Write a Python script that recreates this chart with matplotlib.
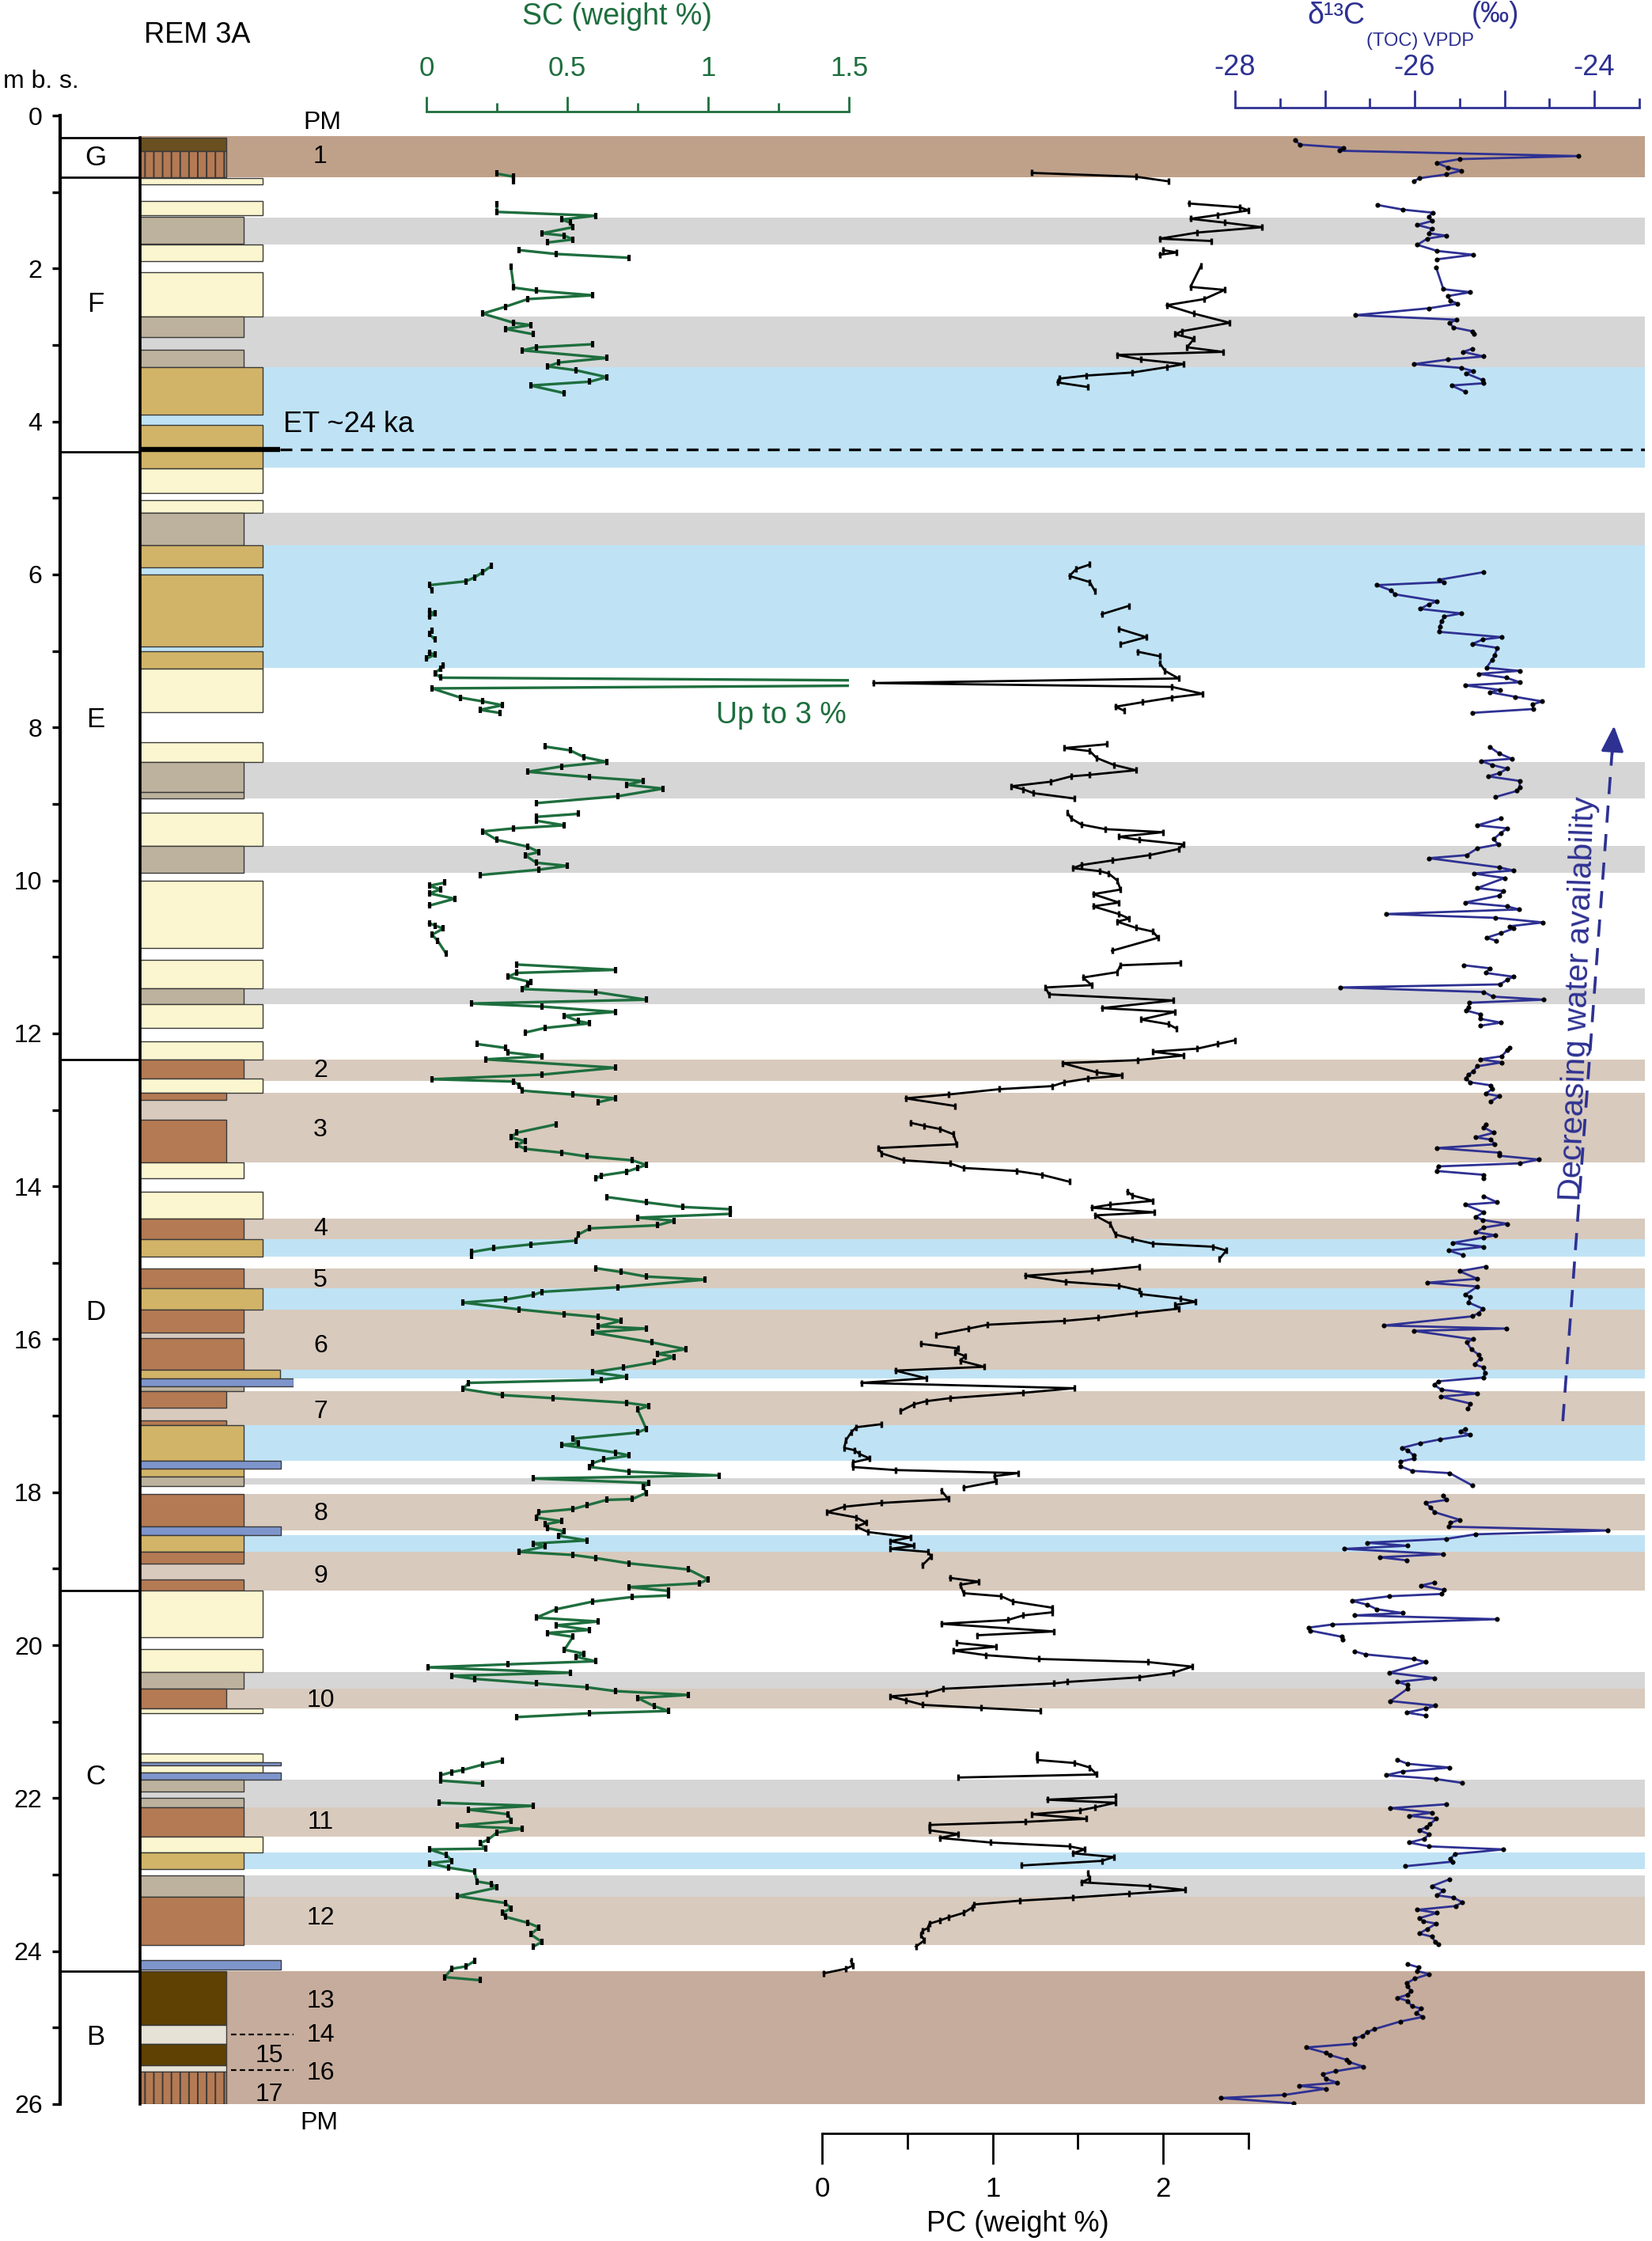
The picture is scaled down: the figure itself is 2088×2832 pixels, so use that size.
import numpy as np
import matplotlib
matplotlib.use("Agg")
import matplotlib.pyplot as plt
from matplotlib.patches import Rectangle

plt.rcParams['font.family'] = ['Liberation Sans Narrow', 'Liberation Sans', 'DejaVu Sans']
plt.rcParams['hatch.linewidth'] = 0.7
plt.rcParams['axes.unicode_minus'] = False

nan = np.nan

# ---------------- stratigraphy (depth in m below surface) ----------------
unit_names = ['G', 'F', 'E', 'D', 'C', 'B']
unit_bounds = [0.29, 0.81, 4.40, 12.34, 19.29, 24.26, 26.0]
unit_label_depth = [0.55, 2.47, 7.90, 15.65, 21.72, 25.13]

# lithology layers: top, bottom, kind
litho = [
    (0.29, 0.47, 'cap'), (0.47, 0.81, 'hatch'),
    (0.82, 0.90, 'sand'), (1.12, 1.30, 'sand'), (1.32, 1.68, 'silt'), (1.69, 1.90, 'sand'),
    (2.05, 2.63, 'sand'), (2.63, 2.90, 'silt'), (3.06, 3.29, 'silt'), (3.29, 3.91, 'gold'),
    (4.05, 4.61, 'gold'), (4.61, 4.94, 'sand'), (5.03, 5.19, 'sand'), (5.19, 5.62, 'silt'),
    (5.62, 5.91, 'gold'), (6.00, 6.94, 'gold'), (7.00, 7.23, 'gold'), (7.23, 7.80, 'sand'),
    (8.19, 8.45, 'sand'), (8.45, 8.85, 'silt'), (8.85, 8.93, 'silt'), (9.12, 9.55, 'sand'),
    (9.55, 9.90, 'silt'), (10.00, 10.88, 'sand'), (11.04, 11.41, 'sand'), (11.41, 11.62, 'silt'),
    (11.62, 11.93, 'sand'), (12.10, 12.34, 'sand'),
    (12.34, 12.59, 'soil'), (12.59, 12.78, 'sand'), (12.78, 12.87, 'soil_n'), (13.13, 13.69, 'soil_n'),
    (13.69, 13.90, 'sand_s'), (14.07, 14.42, 'sand'), (14.42, 14.69, 'soil'), (14.69, 14.92, 'gold'),
    (15.07, 15.33, 'soil'), (15.33, 15.61, 'gold'), (15.61, 15.91, 'soil'), (15.99, 16.40, 'soil'),
    (16.40, 16.51, 'gold_l'), (16.51, 16.62, 'blue_l'), (16.62, 16.68, 'silt'), (16.68, 16.90, 'soil_n'),
    (17.06, 17.12, 'soil_n'), (17.12, 17.59, 'gold_s'), (17.59, 17.69, 'blue'), (17.69, 17.80, 'gold_s'),
    (17.80, 17.92, 'silt'), (18.02, 18.45, 'soil'), (18.45, 18.56, 'blue'), (18.56, 18.78, 'gold_s'),
    (18.78, 18.93, 'soil'), (19.14, 19.29, 'soil'),
    (19.29, 19.90, 'sand'), (20.05, 20.35, 'sand'), (20.35, 20.57, 'silt'), (20.57, 20.83, 'soil_n'),
    (20.83, 20.89, 'sand'), (21.42, 21.53, 'sand'), (21.53, 21.57, 'blue'), (21.57, 21.67, 'sand'),
    (21.67, 21.76, 'blue'), (21.76, 21.91, 'silt'), (22.00, 22.12, 'silt'), (22.12, 22.50, 'soil'),
    (22.50, 22.71, 'sand'), (22.71, 22.93, 'gold_s'), (23.01, 23.29, 'silt'), (23.29, 23.92, 'soil'),
    (24.12, 24.24, 'blue'),
    (24.26, 24.97, 'dark'), (24.97, 25.21, 'light'), (25.21, 25.49, 'dark'), (25.49, 25.58, 'light'),
    (25.58, 26.0, 'hatch'),
]

# background bands: top, bottom, kind
bands = [
    (0.27, 0.81, 'pm_g'), (24.26, 26.0, 'pm_b'),
    (1.33, 1.69, 'grey'), (2.63, 3.29, 'grey'), (5.19, 5.62, 'grey'), (8.45, 8.93, 'grey'),
    (9.55, 9.90, 'grey'), (11.41, 11.62, 'grey'), (17.82, 17.90, 'grey'), (20.35, 20.57, 'grey'),
    (21.76, 22.12, 'grey'), (23.01, 23.29, 'grey'),
    (3.29, 4.60, 'blue'), (5.62, 7.22, 'blue'), (14.69, 14.92, 'blue'), (15.33, 15.61, 'blue'),
    (16.40, 16.51, 'blue'), (17.12, 17.59, 'blue'), (18.56, 18.78, 'blue'), (22.71, 22.93, 'blue'),
    (12.34, 12.62, 'pm'), (12.78, 13.69, 'pm'), (14.42, 14.69, 'pm'), (15.07, 15.33, 'pm'),
    (15.61, 16.40, 'pm'), (16.68, 17.12, 'pm'), (18.02, 18.50, 'pm'), (18.78, 19.29, 'pm'),
    (20.57, 20.83, 'pm'), (22.12, 22.50, 'pm'), (23.29, 23.92, 'pm'),
]

pm_labels = ['1', '2', '3', '4', '5', '6', '7', '8', '9', '10', '11', '12', '13', '14', '15', '16', '17']
pm_depths = [0.54, 12.49, 13.26, 14.56, 15.23, 16.09, 16.95, 18.28, 19.10, 20.72, 22.32, 23.57,
             24.65, 25.10, 25.37, 25.60, 25.88]
et_depth = 4.37
pm_dashes = [25.09, 25.56]

# ---------------- geochemistry: depth (m), value ----------------
sc = np.array([
    [0.76, 0.25], [0.80, 0.31], [0.86, 0.31], [nan, nan],
    [1.16, 0.25], [1.26, 0.25], [1.31, 0.60], [1.36, 0.48], [1.40, 0.51], [1.46, 0.52], [1.54, 0.41],
    [1.57, 0.49], [1.62, 0.52], [1.66, 0.43], [nan, nan],
    [1.76, 0.33], [1.81, 0.46], [1.86, 0.72], [nan, nan],
    [1.98, 0.30], [2.25, 0.31], [2.29, 0.39], [2.35, 0.59], [2.40, 0.36], [2.50, 0.28], [2.59, 0.20],
    [2.71, 0.31], [2.74, 0.37], [2.79, 0.28], [2.86, 0.38], [nan, nan],
    [2.99, 0.59], [3.03, 0.39], [3.07, 0.34], [3.17, 0.64], [3.23, 0.47], [3.28, 0.43], [3.33, 0.53],
    [3.42, 0.64], [3.48, 0.58], [3.53, 0.37], [3.63, 0.49], [nan, nan],
    [5.89, 0.23], [5.97, 0.20], [6.04, 0.17], [6.09, 0.14], [6.14, 0.01], [6.21, 0.02], [nan, nan],
    [6.48, 0.01], [6.51, 0.03], [6.55, 0.01], [nan, nan],
    [6.74, 0.02], [6.78, 0.01], [6.85, 0.03], [nan, nan],
    [7.02, 0.01], [7.05, 0.03], [7.10, 0.00], [nan, nan],
    [7.19, 0.06], [7.23, 0.05], [7.29, 0.03], [7.35, 0.05], [7.42, 3.00], [7.49, 0.02], [7.61, 0.12],
    [7.66, 0.20], [7.71, 0.27], [7.77, 0.19], [7.81, 0.26], [nan, nan],
    [8.25, 0.42], [8.30, 0.51], [8.39, 0.56], [8.45, 0.64], [8.51, 0.48], [8.58, 0.36], [8.65, 0.58],
    [8.70, 0.77], [8.75, 0.71], [8.80, 0.84], [8.90, 0.68], [8.99, 0.39], [nan, nan],
    [9.13, 0.54], [9.17, 0.39], [9.22, 0.39], [9.28, 0.49], [9.32, 0.31], [9.36, 0.20], [9.47, 0.25],
    [9.56, 0.36], [9.63, 0.40], [9.67, 0.35], [9.77, 0.39], [9.81, 0.50], [9.86, 0.40], [9.93, 0.19],
    [nan, nan],
    [10.03, 0.065], [10.07, 0.01], [10.12, 0.05], [10.17, 0.01], [10.24, 0.10], [10.33, 0.01], [nan, nan],
    [10.56, 0.01], [10.59, 0.03], [10.63, 0.06], [10.71, 0.02], [10.79, 0.04], [10.96, 0.07], [nan, nan],
    [11.10, 0.32], [11.17, 0.67], [11.21, 0.32], [11.26, 0.29], [11.33, 0.37], [11.36, 0.36],
    [11.42, 0.34], [11.46, 0.60], [11.56, 0.78], [11.61, 0.16], [11.65, 0.41], [11.72, 0.67],
    [11.77, 0.49], [11.84, 0.54], [11.87, 0.58], [11.93, 0.42], [11.99, 0.35], [nan, nan],
    [12.14, 0.18], [12.19, 0.28], [12.25, 0.29], [12.30, 0.41], [12.34, 0.21], [12.45, 0.67],
    [12.54, 0.41], [12.60, 0.02], [12.63, 0.31], [12.68, 0.33], [12.75, 0.34], [12.80, 0.52],
    [12.85, 0.67], [12.90, 0.61], [nan, nan],
    [13.19, 0.46], [13.30, 0.32], [13.36, 0.30], [13.41, 0.35], [13.46, 0.32], [13.51, 0.35],
    [13.56, 0.48], [13.61, 0.57], [13.66, 0.73], [13.72, 0.78], [13.76, 0.75], [13.81, 0.71],
    [13.86, 0.62], [13.90, 0.60], [nan, nan],
    [14.14, 0.64], [14.21, 0.78], [14.27, 0.91], [14.30, 1.08], [14.36, 1.08], [14.41, 0.75],
    [14.45, 0.88], [14.51, 0.82], [14.55, 0.58], [14.63, 0.54], [14.71, 0.53], [14.76, 0.37],
    [14.81, 0.24], [14.86, 0.16], [14.91, 0.16], [nan, nan],
    [15.07, 0.60], [15.12, 0.69], [15.18, 0.78], [15.22, 0.99], [15.32, 0.68], [15.38, 0.41],
    [15.42, 0.38], [15.48, 0.28], [15.52, 0.13], [15.61, 0.33], [15.67, 0.49], [15.71, 0.61],
    [15.76, 0.69], [15.83, 0.61], [15.86, 0.78], [15.91, 0.59], [16.04, 0.80], [16.13, 0.92],
    [16.19, 0.82], [16.23, 0.88], [16.30, 0.81], [16.37, 0.70], [16.43, 0.59], [16.49, 0.71],
    [16.53, 0.62], [16.57, 0.15], [16.65, 0.13], [16.73, 0.27], [16.77, 0.45], [16.83, 0.71],
    [16.87, 0.79], [16.92, 0.75], [17.17, 0.78], [17.22, 0.75], [17.30, 0.52], [17.36, 0.54],
    [17.38, 0.48], [17.48, 0.67], [17.52, 0.72], [17.57, 0.63], [17.62, 0.59], [17.67, 0.58],
    [17.73, 0.72], [17.78, 1.04], [17.82, 0.38], [17.88, 0.79], [17.93, 0.77], [18.01, 0.78],
    [18.09, 0.73], [18.10, 0.64], [18.17, 0.57], [18.22, 0.52], [18.26, 0.40], [18.33, 0.39],
    [18.38, 0.48], [18.42, 0.42], [18.47, 0.43], [18.51, 0.49], [18.57, 0.47], [18.63, 0.57],
    [18.67, 0.38], [18.71, 0.42], [18.78, 0.33], [18.82, 0.52], [18.86, 0.60], [18.93, 0.72],
    [19.01, 0.93], [19.14, 1.00], [19.19, 0.97], [19.24, 0.72], [19.29, 0.86], [19.35, 0.86],
    [19.37, 0.73], [19.43, 0.59], [19.53, 0.46], [19.64, 0.39], [19.69, 0.61], [19.74, 0.46],
    [19.80, 0.58], [19.84, 0.43], [19.89, 0.52], [20.06, 0.49], [20.11, 0.56], [20.15, 0.53],
    [20.21, 0.60], [20.25, 0.29], [20.29, 0.005], [20.36, 0.51], [20.40, 0.09], [20.44, 0.17],
    [20.50, 0.39], [20.55, 0.57], [20.60, 0.67], [20.65, 0.93], [20.69, 0.75], [20.80, 0.81],
    [20.86, 0.86], [20.89, 0.58], [20.94, 0.32], [nan, nan],
    [21.51, 0.27], [21.56, 0.20], [21.63, 0.13], [21.66, 0.09], [21.70, 0.05], [21.77, 0.05],
    [21.81, 0.20], [nan, nan],
    [22.06, 0.045], [22.10, 0.38], [22.15, 0.15], [22.21, 0.29], [22.30, 0.30], [22.36, 0.11],
    [22.40, 0.34], [22.45, 0.25], [22.54, 0.22], [22.59, 0.19], [22.66, 0.21], [22.67, 0.01],
    [22.74, 0.07], [22.82, 0.09], [22.85, 0.01], [22.91, 0.08], [22.96, 0.17], [23.09, 0.18],
    [23.12, 0.23], [23.17, 0.25], [23.28, 0.11], [23.37, 0.28], [23.44, 0.30], [23.50, 0.27],
    [23.55, 0.28], [23.63, 0.36], [23.69, 0.40], [23.78, 0.37], [23.88, 0.41], [23.94, 0.38],
    [nan, nan],
    [24.13, 0.17], [24.20, 0.14], [24.23, 0.09], [24.34, 0.065], [24.38, 0.19],
])

pc = np.array([
    [0.75, 1.23], [0.80, 1.84], [0.86, 2.03], [nan, nan],
    [1.15, 2.15], [1.20, 2.45], [1.24, 2.50], [1.30, 2.32], [1.35, 2.16], [1.40, 2.36], [1.46, 2.58],
    [1.53, 2.20], [1.61, 1.98], [1.64, 2.28], [nan, nan],
    [1.76, 2.00], [1.79, 2.08], [1.82, 1.98], [nan, nan],
    [1.97, 2.22], [2.24, 2.16], [2.28, 2.36], [2.40, 2.24], [2.48, 2.02], [2.59, 2.18], [2.71, 2.39],
    [2.82, 2.11], [2.86, 2.07], [2.92, 2.18], [3.03, 2.14], [3.09, 2.35], [3.13, 1.73], [3.19, 1.87],
    [3.25, 2.12], [3.29, 2.02], [3.36, 1.82], [3.40, 1.55], [3.44, 1.39], [3.49, 1.38], [3.55, 1.56],
    [nan, nan],
    [5.87, 1.57], [5.93, 1.49], [6.02, 1.45], [6.10, 1.57], [6.22, 1.60], [nan, nan],
    [6.41, 1.80], [6.52, 1.64], [nan, nan],
    [6.71, 1.74], [6.82, 1.90], [6.91, 1.75], [nan, nan],
    [7.01, 1.85], [7.07, 1.98], [nan, nan],
    [7.16, 1.98], [7.26, 2.01], [7.36, 2.09], [7.42, 0.30], [7.47, 2.05], [7.56, 2.23], [7.61, 2.05],
    [7.67, 1.88], [7.73, 1.72], [7.78, 1.77], [nan, nan],
    [8.22, 1.67], [8.27, 1.42], [8.31, 1.57], [8.40, 1.61], [8.49, 1.71], [8.56, 1.84], [8.62, 1.57],
    [8.64, 1.46], [8.71, 1.34], [8.77, 1.11], [8.81, 1.18], [8.86, 1.24], [8.93, 1.48], [nan, nan],
    [9.12, 1.44], [9.19, 1.46], [9.27, 1.52], [9.33, 1.66], [9.37, 2.00], [9.43, 1.74], [9.47, 1.86],
    [9.53, 2.12], [9.59, 2.09], [9.67, 1.92], [9.74, 1.70], [9.80, 1.52], [9.84, 1.47], [9.88, 1.63],
    [9.91, 1.68], [10.00, 1.73], [10.12, 1.75], [10.18, 1.59], [10.29, 1.74], [10.34, 1.59],
    [10.44, 1.74], [10.50, 1.80], [10.54, 1.73], [10.62, 1.84], [10.67, 1.94], [10.75, 1.97],
    [10.92, 1.70], [nan, nan],
    [11.08, 2.10], [11.11, 1.75], [11.20, 1.73], [11.27, 1.53], [11.37, 1.58], [11.40, 1.31],
    [11.49, 1.33], [11.57, 2.06], [11.67, 1.64], [11.72, 2.07], [11.82, 1.87], [11.88, 2.03],
    [11.94, 2.08], [nan, nan],
    [12.09, 2.42], [12.14, 2.32], [12.20, 2.20], [12.24, 1.94], [12.29, 2.12], [12.35, 1.85],
    [12.39, 1.41], [12.51, 1.61], [12.55, 1.76], [12.59, 1.56], [12.64, 1.42], [12.69, 1.35],
    [12.73, 1.04], [12.80, 0.74], [12.85, 0.49], [12.95, 0.78], [nan, nan],
    [13.17, 0.52], [13.21, 0.60], [13.25, 0.69], [13.32, 0.77], [13.45, 0.79], [13.50, 0.33],
    [13.57, 0.35], [13.66, 0.48], [13.70, 0.75], [13.76, 0.83], [13.80, 1.14], [13.85, 1.29],
    [13.94, 1.45], [nan, nan],
    [14.07, 1.79], [14.12, 1.82], [14.19, 1.94], [14.24, 1.69], [14.28, 1.58], [14.34, 1.95],
    [14.38, 1.60], [14.49, 1.69], [14.63, 1.72], [14.69, 1.82], [14.75, 1.94], [14.79, 2.29],
    [14.84, 2.37], [14.95, 2.33], [nan, nan],
    [15.05, 1.86], [15.11, 1.58], [15.17, 1.19], [15.25, 1.43], [15.30, 1.74], [15.36, 1.86],
    [15.41, 1.87], [15.47, 2.10], [15.51, 2.19], [15.55, 2.07], [15.60, 2.09], [15.66, 1.84],
    [15.72, 1.62], [15.76, 1.42], [15.81, 0.97], [15.86, 0.86], [15.94, 0.67], [nan, nan],
    [16.06, 0.58], [16.12, 0.80], [16.17, 0.78], [16.22, 0.84], [16.28, 0.81], [16.36, 0.95],
    [16.41, 0.43], [16.51, 0.61], [16.57, 0.23], [16.64, 1.48], [16.70, 1.18], [16.77, 0.75],
    [16.81, 0.61], [16.85, 0.54], [16.94, 0.46], [nan, nan],
    [17.11, 0.35], [17.15, 0.20], [17.22, 0.17], [17.32, 0.14], [17.42, 0.13], [17.45, 0.19],
    [17.50, 0.22], [17.56, 0.28], [17.61, 0.18], [17.67, 0.18], [17.71, 0.43], [17.75, 1.15],
    [17.79, 1.01], [17.86, 1.02], [17.94, 0.83], [nan, nan],
    [17.98, 0.70], [18.09, 0.74], [18.14, 0.35], [18.19, 0.13], [18.26, 0.03], [18.33, 0.20],
    [18.40, 0.26], [18.45, 0.20], [18.52, 0.27], [18.59, 0.52], [18.64, 0.40], [18.70, 0.54],
    [18.74, 0.40], [18.78, 0.62], [18.84, 0.64], [18.95, 0.59], [nan, nan],
    [19.12, 0.75], [19.17, 0.92], [19.21, 0.81], [19.32, 0.83], [19.36, 1.05], [19.43, 1.12],
    [19.51, 1.35], [19.57, 1.35], [19.61, 1.18], [19.67, 1.09], [19.72, 0.70], [19.82, 1.36],
    [19.87, 0.91], [nan, nan],
    [19.97, 0.79], [20.02, 1.02], [20.07, 0.77], [20.13, 0.96], [20.18, 1.27], [20.22, 1.91],
    [20.28, 2.17], [20.36, 2.06], [20.42, 1.86], [20.48, 1.44], [20.50, 1.36], [20.57, 0.71],
    [20.63, 0.61], [20.67, 0.40], [20.72, 0.49], [20.78, 0.59], [20.82, 0.93], [20.86, 1.28],
    [nan, nan],
    [21.43, 1.26], [21.50, 1.26], [21.54, 1.48], [21.60, 1.57], [21.69, 1.61], [21.73, 0.80],
    [nan, nan],
    [21.98, 1.72], [22.02, 1.32], [22.06, 1.72], [22.12, 1.60], [22.16, 1.51], [22.21, 1.23],
    [22.27, 1.55], [22.31, 1.19], [22.35, 0.63], [22.42, 0.63], [22.47, 0.80], [22.52, 0.69],
    [22.58, 0.99], [22.63, 1.45], [22.67, 1.54], [22.72, 1.47], [22.77, 1.71], [22.82, 1.64],
    [22.88, 1.17], [nan, nan],
    [22.98, 1.56], [23.05, 1.57], [23.10, 1.52], [23.15, 1.92], [23.20, 2.13], [23.25, 1.80],
    [23.30, 1.47], [23.34, 1.16], [23.39, 0.89], [23.43, 0.88], [23.50, 0.83], [23.56, 0.74],
    [23.60, 0.69], [23.64, 0.63], [23.70, 0.62], [23.73, 0.59], [23.79, 0.58], [23.86, 0.60],
    [23.94, 0.55], [nan, nan],
    [24.13, 0.17], [24.19, 0.18], [24.23, 0.14], [24.29, 0.01],
])

d13c = np.array([
    [0.32, -27.33], [0.38, -27.28], [0.42, -26.79], [0.46, -26.84], [0.53, -24.18], [0.57, -25.50],
    [0.62, -25.75], [0.68, -25.63], [0.72, -25.48], [0.77, -25.65], [0.82, -25.95], [0.86, -26.01],
    [nan, nan],
    [1.17, -26.41], [1.23, -26.13], [1.27, -25.80], [1.32, -25.84], [1.38, -25.81], [1.43, -25.97],
    [1.48, -25.81], [1.54, -25.84], [1.57, -25.65], [1.61, -25.86], [1.69, -25.97], [1.77, -25.75],
    [1.82, -25.35], [1.88, -25.75], [nan, nan],
    [1.99, -25.76], [2.27, -25.68], [2.31, -25.38], [2.36, -25.63], [2.42, -25.60], [2.46, -25.52],
    [2.52, -25.84], [2.61, -26.66], [2.67, -25.53], [2.71, -25.61], [2.77, -25.57], [2.82, -25.36],
    [2.86, -25.34], [nan, nan],
    [3.05, -25.36], [3.09, -25.46], [3.15, -25.23], [3.19, -25.63], [3.25, -26.01], [3.30, -25.48],
    [3.34, -25.35], [3.37, -25.43], [3.46, -25.24], [3.50, -25.23], [3.53, -25.59], [3.61, -25.44],
    [nan, nan],
    [5.97, -25.23], [6.07, -25.73], [6.10, -25.67], [6.14, -26.42], [6.21, -26.26], [6.26, -26.22],
    [6.35, -25.75], [6.39, -25.84], [6.45, -25.94], [6.51, -25.48], [6.55, -25.67], [6.61, -25.70],
    [6.68, -25.72], [6.75, -25.73], [6.82, -25.03], [6.85, -25.24], [6.91, -25.36], [6.96, -25.08],
    [7.06, -25.11], [7.12, -25.14], [7.22, -25.20], [7.26, -24.83], [7.30, -25.29], [7.35, -24.98],
    [7.41, -24.83], [7.45, -25.44], [7.51, -25.05], [7.54, -25.16], [7.60, -24.88], [7.66, -24.58],
    [7.70, -24.69], [7.76, -24.68], [7.81, -25.36], [nan, nan],
    [8.26, -25.16], [8.34, -25.06], [8.41, -24.92], [8.44, -25.26], [8.49, -25.14], [8.54, -24.97],
    [8.60, -25.06], [8.64, -25.18], [8.70, -24.83], [8.78, -24.83], [8.83, -24.86], [8.91, -25.10],
    [nan, nan],
    [9.19, -25.04], [9.28, -25.30], [9.32, -24.97], [9.38, -25.04], [9.46, -25.12], [9.53, -25.07],
    [9.58, -25.30], [9.67, -25.42], [9.71, -25.84], [9.83, -25.06], [9.87, -24.90], [9.91, -25.34],
    [9.97, -25.00], [10.10, -25.30], [10.14, -25.01], [10.20, -25.06], [10.29, -25.44],
    [10.34, -24.97], [10.38, -24.84], [10.44, -26.32], [10.49, -25.10], [10.55, -24.57],
    [10.60, -24.94], [10.63, -24.90], [10.69, -25.04], [10.75, -25.20], [10.79, -25.09], [nan, nan],
    [11.11, -25.45], [11.15, -25.16], [11.21, -25.21], [11.26, -24.90], [11.30, -24.97],
    [11.36, -25.05], [11.40, -26.83], [11.46, -25.23], [11.52, -25.13], [11.56, -24.56],
    [11.60, -25.39], [11.66, -25.40], [11.70, -25.43], [11.75, -25.27], [11.81, -25.27],
    [11.86, -25.04], [11.90, -25.27], [nan, nan],
    [12.19, -24.94], [12.22, -24.97], [12.30, -25.03], [12.34, -25.27], [12.38, -25.03],
    [12.43, -25.30], [12.50, -25.35], [12.54, -25.40], [12.59, -25.43], [12.64, -25.38],
    [12.68, -25.15], [12.73, -25.14], [12.79, -25.21], [12.82, -25.06], [12.89, -25.15], [nan, nan],
    [13.19, -25.21], [13.23, -25.23], [13.30, -25.12], [13.36, -25.32], [13.39, -25.15],
    [13.45, -25.11], [13.50, -25.75], [13.56, -25.06], [13.60, -25.06], [13.65, -24.62],
    [13.70, -24.83], [13.74, -25.74], [13.80, -25.75], [13.85, -25.23], [13.90, -25.23], [nan, nan],
    [14.13, -25.23], [14.21, -25.08], [14.24, -25.44], [14.34, -25.23], [14.40, -25.32],
    [14.44, -25.24], [14.49, -24.97], [14.54, -25.23], [14.60, -25.32], [14.64, -25.10],
    [14.67, -25.23], [14.74, -25.58], [14.79, -25.23], [14.84, -25.62], [14.90, -25.46], [nan, nan],
    [15.05, -25.21], [15.11, -25.50], [15.21, -25.30], [15.26, -25.86], [15.31, -25.30],
    [15.42, -25.44], [15.45, -25.38], [15.52, -25.40], [15.60, -25.24], [15.66, -25.29],
    [15.70, -25.36], [15.82, -26.34], [15.86, -24.98], [15.89, -26.01], [16.00, -25.35],
    [16.04, -25.42], [16.13, -25.37], [16.20, -25.29], [16.25, -25.27], [16.33, -25.33],
    [16.37, -25.23], [16.44, -25.22], [16.50, -25.23], [16.55, -25.74], [16.60, -25.78],
    [16.66, -25.70], [16.71, -25.30], [16.75, -25.71], [16.84, -25.38], [16.91, -25.41], [nan, nan],
    [17.17, -25.44], [17.21, -25.49], [17.25, -25.38], [17.31, -25.72], [17.36, -25.94],
    [17.42, -26.14], [17.45, -26.08], [17.52, -26.01], [17.56, -26.01], [17.60, -26.16],
    [17.66, -26.16], [17.72, -26.03], [17.75, -25.61], [17.91, -25.36], [nan, nan],
    [18.04, -25.68], [18.10, -25.65], [18.14, -25.88], [18.20, -25.82], [18.26, -25.78],
    [18.36, -25.50], [18.40, -25.60], [18.45, -25.62], [18.50, -23.85], [18.55, -25.32],
    [18.61, -25.65], [18.66, -26.53], [18.70, -26.08], [18.74, -26.78], [18.81, -25.68],
    [18.85, -26.39], [18.89, -26.09], [nan, nan],
    [19.18, -25.78], [19.22, -25.93], [19.28, -25.67], [19.33, -25.70], [19.36, -26.28],
    [19.42, -26.70], [19.47, -26.53], [19.53, -26.42], [19.58, -26.13], [19.61, -26.67],
    [19.66, -25.08], [19.73, -26.92], [19.77, -27.18], [19.81, -27.16], [19.89, -26.81],
    [19.93, -26.80], [nan, nan],
    [20.08, -26.67], [20.12, -26.55], [20.18, -26.01], [20.22, -25.88], [20.36, -26.28],
    [20.43, -25.78], [20.48, -26.19], [20.52, -26.08], [20.57, -26.08], [20.73, -26.27],
    [20.79, -25.77], [20.83, -25.88], [20.88, -26.09], [20.92, -25.88], [nan, nan],
    [21.50, -26.19], [21.55, -26.08], [21.60, -25.61], [21.65, -26.13], [21.70, -26.32],
    [21.75, -25.76], [21.80, -25.47], [nan, nan],
    [22.08, -25.65], [22.13, -26.27], [22.19, -25.81], [22.23, -26.06], [22.27, -25.76],
    [22.34, -25.83], [22.38, -25.87], [22.42, -25.95], [22.47, -25.84], [22.53, -25.89],
    [22.58, -26.06], [22.63, -25.84], [22.67, -25.01], [22.73, -25.55], [22.79, -25.60],
    [22.83, -25.58], [22.89, -26.11], [nan, nan],
    [23.06, -25.61], [23.15, -25.81], [23.21, -25.68], [23.27, -25.75], [23.30, -25.57],
    [23.36, -25.47], [23.41, -25.54], [23.46, -25.97], [23.50, -25.75], [23.57, -25.95],
    [23.61, -25.90], [23.64, -25.76], [23.71, -25.86], [23.77, -25.95], [23.81, -25.81],
    [23.88, -25.77], [23.91, -25.74], [nan, nan],
    [24.17, -26.08], [24.21, -25.96], [24.26, -25.97], [24.30, -25.84], [24.36, -26.00],
    [24.42, -26.09], [24.46, -26.08], [24.52, -26.04], [24.57, -26.08], [24.61, -26.19],
    [24.65, -26.08], [24.72, -26.03], [24.75, -25.93], [24.81, -25.98], [24.86, -25.91],
    [24.92, -26.16], [25.02, -26.45], [25.06, -26.53], [25.11, -26.58], [25.14, -26.67],
    [25.21, -26.67], [25.26, -27.21], [25.33, -26.99], [25.36, -26.94], [25.42, -26.76],
    [25.45, -26.73], [25.51, -26.57], [25.57, -26.88], [25.61, -27.02], [25.67, -26.99],
    [25.72, -26.86], [25.76, -27.29], [25.80, -26.99], [25.88, -27.45], [25.92, -28.16],
    [25.99, -27.35],
])

# ---------------- styles ----------------
GREEN = '#1E6E3E'
NAVY = '#2E3192'
band_colors = {'pm_g': '#BFA18A', 'pm_b': '#C6AC9C', 'pm': '#D8CABD',
               'grey': '#D6D6D6', 'blue': '#BFE3F5'}
# kind -> (colour, width as fraction of lithology panel, hatch)
litho_style = {
    'sand': ('#FBF6CF', 0.80, None), 'sand_s': ('#FBF6CF', 0.675, None),
    'gold': ('#D2B468', 0.80, None), 'gold_s': ('#D2B468', 0.675, None),
    'gold_l': ('#D2B468', 0.912, None),
    'silt': ('#BDB29D', 0.675, None),
    'soil': ('#B47A53', 0.675, None), 'soil_n': ('#B47A53', 0.562, None),
    'blue': ('#7E95CC', 0.918, None), 'blue_l': ('#7E95CC', 1.0, None),
    'dark': ('#5F4104', 0.562, None), 'light': ('#E6E2D6', 0.562, None),
    'cap': ('#6A5020', 0.562, None), 'hatch': ('#B47A53', 0.562, '|||'),
}

# pixel layout of the reference (2088 x 2832)
W_PX, H_PX = 2088, 2832
X0, X1, Y0, Y1 = 76, 2079, 146, 2659
LITH0, LITH1 = 177, 371


def fx(px):
    return px / W_PX


def fy(py):
    return 1 - py / H_PX


def cf(px):
    return (px - X0) / (X1 - X0)


fig = plt.figure(figsize=(W_PX / 200, H_PX / 200), dpi=200)
rect = [fx(X0), fy(Y1), fx(X1) - fx(X0), fy(Y0) - fy(Y1)]

# ---- base axes: depth scale, bands, unit column ----
ax = fig.add_axes(rect)
ax.set_xlim(0, 1)
ax.set_ylim(26, 0)
for s in ['top', 'right', 'bottom']:
    ax.spines[s].set_visible(False)
ax.spines['left'].set_linewidth(1.5)
ax.set_xticks([])
ax.set_yticks(range(0, 27, 2))
ax.set_yticks(range(1, 26, 2), minor=True)
ax.tick_params(axis='y', which='both', direction='out', length=3.6, width=1.2, pad=4.5, labelsize=11.5)

for top, bot, kind in bands:
    ax.axhspan(top, bot, xmin=cf(LITH0), xmax=1, facecolor=band_colors[kind], lw=0, zorder=0)

yt = ax.get_yaxis_transform()
for d in unit_bounds[:-1]:
    ax.plot([0, cf(LITH0)], [d, d], color='k', lw=1.0, transform=yt, clip_on=False, zorder=4)
for name, d in zip(unit_names, unit_label_depth):
    ax.text(cf(121), d, name, transform=yt, ha='center', va='center', fontsize=12.5)

ax.axhline(et_depth, xmin=cf(354), xmax=1, color='k', lw=1.2, ls=(0, (4.5, 3.2)), zorder=2)
ax.text(cf(358), 4.04, 'ET ~24 ka', transform=yt, ha='left', va='center', fontsize=13)

for lab, d in zip(pm_labels, pm_depths):
    xpos = cf(340) if lab in ('15', '17') else cf(405)
    ax.text(xpos, d, lab, transform=yt, ha='center', va='center', fontsize=11.5, clip_on=False)
ax.text(cf(403), 26.25, 'PM', transform=yt, ha='center', va='center', fontsize=11.5, clip_on=False)

# ---- lithology column ----
ax_lith = fig.add_axes([fx(LITH0), fy(Y1), fx(LITH1) - fx(LITH0), fy(Y0) - fy(Y1)], sharey=ax)
ax_lith.set_xlim(0, 1)
ax_lith.axis('off')
for top, bot, kind in litho:
    col, w, hatch = litho_style[kind]
    ax_lith.barh((top + bot) / 2, w, height=bot - top, left=0, color=col,
                 edgecolor='#3A3A3A', lw=0.5, hatch=hatch)
ax_lith.plot([0, 0], [unit_bounds[0], 26], color='k', lw=1.3, clip_on=False)
ax_lith.plot([0, 0.912], [et_depth, et_depth], color='k', lw=2.3, solid_capstyle='butt')
for d in pm_dashes:
    ax_lith.plot([0.593, 1.0], [d, d], color='k', lw=0.8, ls=(0, (3, 2)), clip_on=False)


# ---- data axes, each with its own x scale ----
def data_axes(v0, p0, v1, p1):
    a = fig.add_axes(rect, sharey=ax)
    a.set_facecolor('none')
    k = (v1 - v0) / (p1 - p0)
    a.set_xlim(v0 + (X0 - p0) * k, v0 + (X1 - p0) * k)
    for s in a.spines.values():
        s.set_visible(False)
    a.tick_params(axis='y', which='both', left=False, labelleft=False)
    return a


ax_sc = data_axes(0, 539, 1.5, 1073)
ax_pc = data_axes(0, 1039, 2.5, 1578)
ax_d13 = data_axes(-28, 1561, -24, 2015)

# SC axis (top)
ax_sc.xaxis.tick_top()
sp = ax_sc.spines['top']
sp.set_visible(True)
sp.set_bounds(0, 1.5)
sp.set_position(('outward', 1.8))
sp.set_color(GREEN)
sp.set_linewidth(1.0)
ax_sc.set_xticks([0, 0.5, 1, 1.5], ['0', '0.5', '1', '1.5'])
ax_sc.set_xticks([0.25, 0.75, 1.25], minor=True)
ax_sc.tick_params(axis='x', which='both', colors=GREEN, width=1.0, direction='out',
                  top=True, bottom=False, labeltop=True, labelbottom=False)
ax_sc.tick_params(axis='x', which='major', length=6.8, pad=7, labelsize=12.5)
ax_sc.tick_params(axis='x', which='minor', length=4)

# d13C axis (top)
ax_d13.xaxis.tick_top()
sp = ax_d13.spines['top']
sp.set_visible(True)
sp.set_bounds(-28, -23.5)
sp.set_position(('outward', 3.6))
sp.set_color(NAVY)
sp.set_linewidth(1.0)
ax_d13.set_xticks([-28, -27, -26, -25, -24], ['-28', '', '-26', '', '-24'])
ax_d13.set_xticks([-27.5, -26.5, -25.5, -24.5, -23.5], minor=True)
ax_d13.tick_params(axis='x', which='both', colors=NAVY, width=1.0, direction='out',
                   top=True, bottom=False, labeltop=True, labelbottom=False)
ax_d13.tick_params(axis='x', which='major', length=8, pad=4, labelsize=13)
ax_d13.tick_params(axis='x', which='minor', length=4.3)

# PC axis (bottom)
sp = ax_pc.spines['bottom']
sp.set_visible(True)
sp.set_bounds(0, 2.5)
sp.set_position(('outward', 13.3))
sp.set_linewidth(1.0)
ax_pc.set_xticks([0, 1, 2], ['0', '1', '2'])
ax_pc.set_xticks([0.5, 1.5, 2.5], minor=True)
ax_pc.tick_params(axis='x', which='both', width=1.0, direction='out', top=False, bottom=True,
                  labeltop=False, labelbottom=True)
ax_pc.tick_params(axis='x', which='major', length=14, pad=5.5, labelsize=12.5)
ax_pc.tick_params(axis='x', which='minor', length=7.2)

# curves
sc_line, = ax_sc.plot(sc[:, 1], sc[:, 0], color=GREEN, lw=1.2, marker='|', ms=2.8, mew=1.5,
                      mec='k', zorder=3)
sc_line.set_clip_path(Rectangle((-2, -1), 3.5, 28, transform=ax_sc.transData))
ax_pc.plot(pc[:, 1], pc[:, 0], color='k', lw=1.0, marker='|', ms=3.2, mew=1.2, zorder=3)
ax_d13.plot(d13c[:, 1], d13c[:, 0], color=NAVY, lw=1.0, marker='o', ms=1.9, mfc='k', mec='k',
            mew=0.3, zorder=3)

ax_sc.text(1.26, 7.84, 'Up to 3 %', color=GREEN, ha='center', va='center', fontsize=13.5)

# water availability arrow
ax_d13.plot([-24.35, -23.80], [17.07, 8.30], color=NAVY, lw=1.3, ls=(0, (6, 4)))
ax_d13.annotate('', xy=(-23.78, 7.98), xytext=(-23.80, 8.35),
                arrowprops=dict(arrowstyle='-|>,head_length=0.5,head_width=0.22', color=NAVY,
                                lw=1.2, mutation_scale=20, shrinkA=0, shrinkB=0))
ax_d13.text(-24.18, 11.55, 'Decreasing water availability', rotation=88, color=NAVY,
            ha='center', va='center', fontsize=14.5)

# ---- headers ----
fig.text(fx(249), fy(45), 'REM 3A', ha='center', va='center', fontsize=13)
fig.text(fx(4), fy(103), 'm b. s.', ha='left', va='center', fontsize=11.5)
fig.text(fx(407), fy(155), 'PM', ha='center', va='center', fontsize=11.5)
fig.text(fx(780), fy(21), 'SC (weight %)', ha='center', va='center', fontsize=13.5, color=GREEN)
fig.text(fx(1652), fy(20), 'δ¹³C', ha='left', va='center', fontsize=13.5, color=NAVY)
fig.text(fx(1727), fy(52), '(TOC) VPDP', ha='left', va='center', fontsize=8.5, color=NAVY)
fig.text(fx(1860), fy(19), '(‰)', ha='left', va='center', fontsize=13, color=NAVY)
fig.text(fx(1286), fy(2810), 'PC (weight %)', ha='center', va='center', fontsize=13)

fig.savefig('out.png', dpi=200)
